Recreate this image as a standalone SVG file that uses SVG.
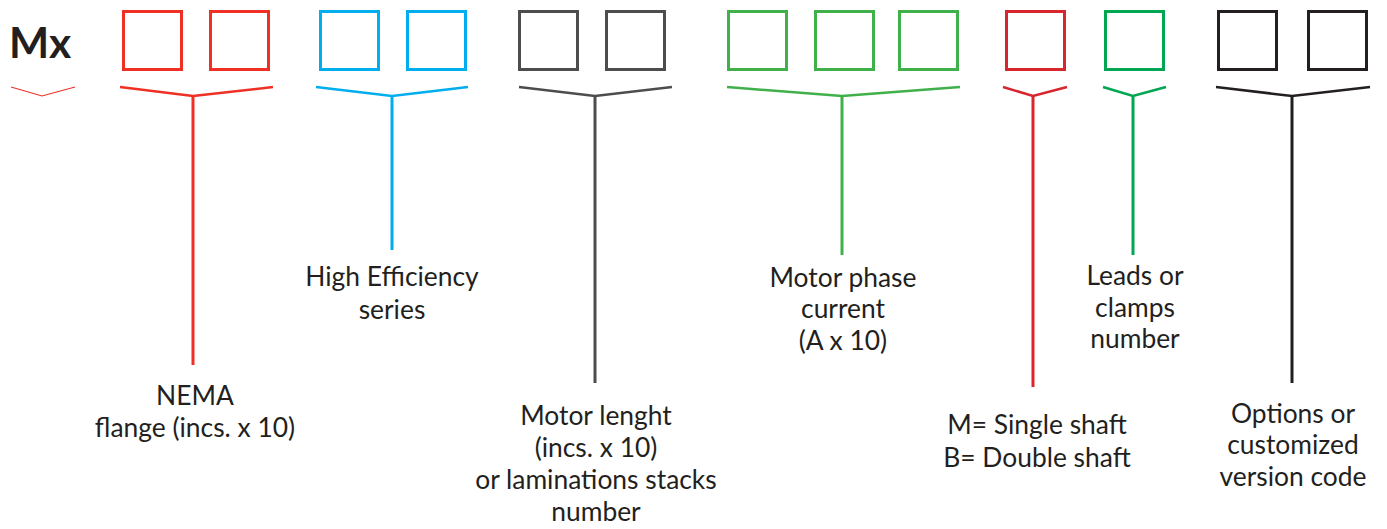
<svg xmlns="http://www.w3.org/2000/svg" width="1387" height="529" viewBox="0 0 1387 529">
<style>
.box{fill:none;stroke-width:3}
.arm{fill:none;stroke-width:2.5;stroke-linejoin:miter}
.stem{fill:none;stroke-width:3}
.lbl{font-family:Lato,"Liberation Sans",sans-serif;font-size:26.4px;fill:#231F20;text-anchor:middle}
.red{stroke:#EE3124}.blue{stroke:#00AEEF}.gray{stroke:#4D4D4D}.lgreen{stroke:#40B04A}.dred{stroke:#D7262E}.green{stroke:#00A651}.black{stroke:#231F20}
</style>
<rect width="1387" height="529" fill="#fff"/>
<g id="title">
<text x="9" y="58" font-family="Lato,'Liberation Sans',sans-serif" font-weight="bold" font-size="42.5" fill="#231F20">Mx</text>
<path d="M11,87 L42,96 L75,87" fill="none" stroke="#EE3124" stroke-width="1.2"/>
</g>
<g id="nema">
<rect class="box red" x="123.5" y="11.5" width="58" height="58"/>
<rect class="box red" x="210.5" y="11.5" width="58" height="58"/>
<text class="lbl"><tspan x="195" y="405">NEMA</tspan><tspan x="195" y="437">flange (incs. x 10)</tspan></text>
</g>
<g id="efficiency">
<rect class="box blue" x="320.5" y="11.5" width="58" height="58"/>
<rect class="box blue" x="407.5" y="11.5" width="58" height="58"/>
<text class="lbl"><tspan x="392" y="286">High Efficiency</tspan><tspan x="392" y="319">series</tspan></text>
</g>
<g id="length">
<rect class="box gray" x="519.5" y="11.5" width="58" height="58"/>
<rect class="box gray" x="606.5" y="11.5" width="58" height="58"/>
<text class="lbl"><tspan x="596" y="425">Motor lenght</tspan><tspan x="596" y="457">(incs. x 10)</tspan><tspan x="596" y="489">or laminations stacks</tspan><tspan x="596" y="521">number</tspan></text>
</g>
<g id="current">
<rect class="box lgreen" x="728.5" y="11.5" width="58" height="58"/>
<rect class="box lgreen" x="815.5" y="11.5" width="58" height="58"/>
<rect class="box lgreen" x="899.5" y="11.5" width="58" height="58"/>
<text class="lbl"><tspan x="843" y="287">Motor phase</tspan><tspan x="843" y="318">current</tspan><tspan x="843" y="350">(A x 10)</tspan></text>
</g>
<g id="shaft">
<rect class="box dred" x="1006.5" y="11.5" width="58" height="58"/>
<text class="lbl"><tspan x="1037" y="434">M= Single shaft</tspan><tspan x="1037" y="467">B= Double shaft</tspan></text>
</g>
<g id="leads">
<rect class="box green" x="1105.5" y="11.5" width="58" height="58"/>
<text class="lbl"><tspan x="1135" y="285">Leads or</tspan><tspan x="1135" y="317">clamps</tspan><tspan x="1135" y="348">number</tspan></text>
</g>
<g id="options">
<rect class="box black" x="1218.5" y="11.5" width="58" height="58"/>
<rect class="box black" x="1308.5" y="11.5" width="58" height="58"/>
<text class="lbl"><tspan x="1293" y="423">Options or</tspan><tspan x="1293" y="454">customized</tspan><tspan x="1293" y="486">version code</tspan></text>
</g>
<g id="connectors">
<path class="arm red" d="M120,87 L193,96 L273,87"/><path class="stem red" d="M193,95 V365"/>
<path class="arm blue" d="M316,87 L392,96 L468,87"/><path class="stem blue" d="M392,95 V250"/>
<path class="arm gray" d="M519,87 L595,96 L672,87"/><path class="stem gray" d="M595,95 V383"/>
<path class="arm lgreen" d="M727,87 L842,96 L960,87"/><path class="stem lgreen" d="M842,95 V255"/>
<path class="arm dred" d="M1003,87 L1033,96 L1067,87"/><path class="stem dred" d="M1033,95 V387"/>
<path class="arm green" d="M1103,87 L1133,96 L1166,87"/><path class="stem green" d="M1133,95 V255"/>
<path class="arm black" d="M1216,87 L1292,96 L1370,87"/><path class="stem black" d="M1292,95 V383"/>
</g>
</svg>
